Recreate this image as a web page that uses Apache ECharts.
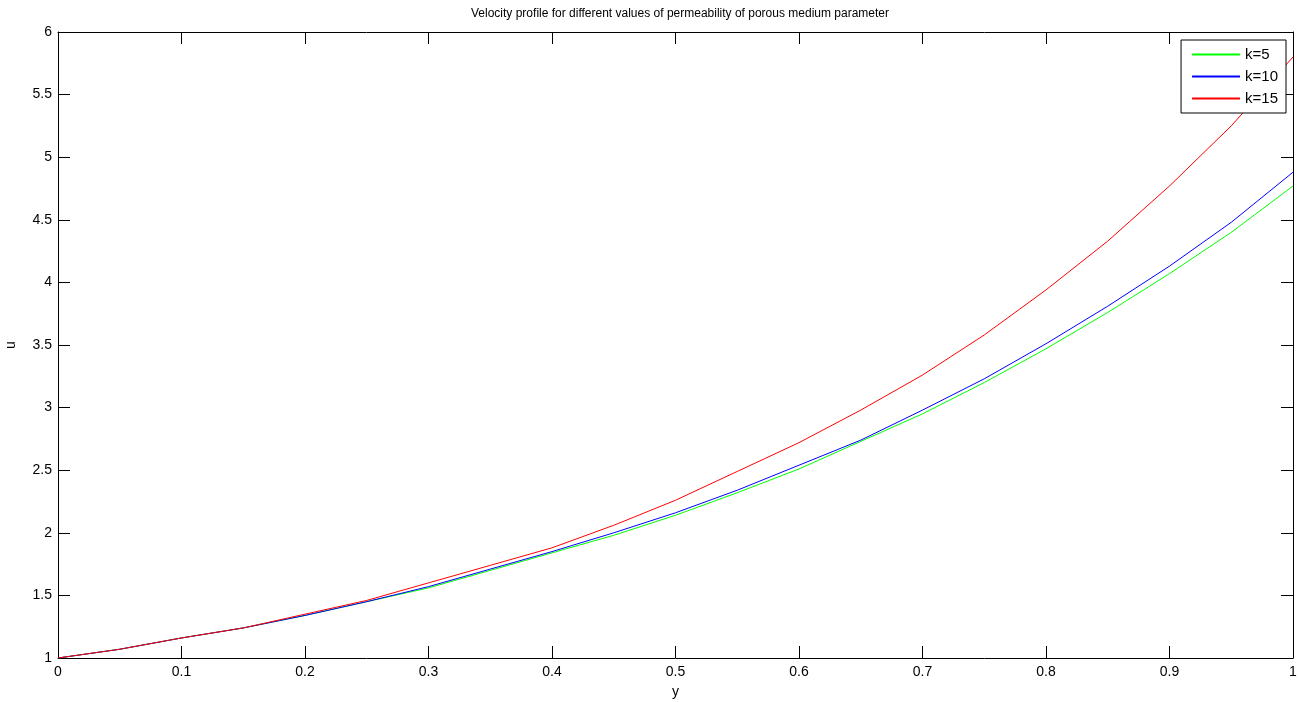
<!DOCTYPE html>
<html>
<head>
<meta charset="utf-8">
<title>Velocity profile</title>
<script src="https://cdn.jsdelivr.net/npm/echarts@6/dist/echarts.min.js"></script>
<style>
  html, body { margin: 0; padding: 0; background: #fff; }
  #chart { width: 1300px; height: 702px; }
</style>
</head>
<body>
<div id="chart"></div>
<script>
// y 坐标（横轴）
const yPos = [0, 0.05, 0.1, 0.15, 0.2, 0.25, 0.3, 0.35, 0.4, 0.45, 0.5,
  0.55, 0.6, 0.65, 0.7, 0.75, 0.8, 0.85, 0.9, 0.95, 1]
// 速度 u，读图估计
const uK5 = [1.00, 1.07, 1.16, 1.24, 1.34, 1.45, 1.56, 1.70, 1.84, 1.98, 2.14,
  2.32, 2.51, 2.73, 2.95, 3.20, 3.47, 3.76, 4.07, 4.40, 4.77]
const uK10 = [1.00, 1.07, 1.16, 1.24, 1.34, 1.45, 1.57, 1.71, 1.85, 2.00, 2.16,
  2.34, 2.54, 2.74, 2.98, 3.23, 3.51, 3.81, 4.13, 4.48, 4.88]
const uK15 = [1.00, 1.07, 1.16, 1.24, 1.35, 1.46, 1.60, 1.74, 1.88, 2.06, 2.26,
  2.49, 2.72, 2.98, 3.26, 3.58, 3.94, 4.33, 4.77, 5.25, 5.80]
const names = ['k=5', 'k=10', 'k=15']
const colors = ['#00ff00', '#0000ff', '#ff0000']

const font = 'Liberation Sans, Arial, sans-serif'
const pairs = arr => yPos.map((x, i) => [x, arr[i]])

const chart = echarts.init(document.getElementById('chart'))

// 公共轴样式：刻度朝内，黑色细线，不贴零
const axisBase = {
  type: 'value',
  axisLine: { show: true, onZero: false, lineStyle: { color: '#000', width: 1 } },
  axisTick: { show: true, inside: true, length: 12, lineStyle: { color: '#000', width: 1 } },
  splitLine: { show: false }
}

const option = {
  animation: false,
  backgroundColor: '#fff',
  title: {
    text: 'Velocity profile for different values of permeability of porous medium parameter',
    left: 675,
    top: 3,
    textAlign: 'center',
    textStyle: { fontFamily: font, fontSize: 12, fontWeight: 'normal', color: '#000' }
  },
  legend: {
    data: names,
    orient: 'vertical',
    right: 14,
    top: 40,
    itemWidth: 48,
    itemHeight: 14,
    itemGap: 7,
    padding: [7, 8, 7, 10],
    borderColor: '#000',
    borderWidth: 1,
    backgroundColor: '#fff',
    itemStyle: { opacity: 0 },
    textStyle: { fontFamily: font, fontSize: 15, color: '#000' }
  },
  grid: { left: 58, right: 7, top: 32, bottom: 44, containLabel: false, outerBoundsMode: 'none' },
  xAxis: [
    {
      ...axisBase,
      min: 0, max: 1, interval: 0.1,
      name: 'y',
      nameLocation: 'middle',
      nameGap: 27,
      nameTextStyle: { fontFamily: font, fontSize: 14, color: '#000' },
      axisLabel: { fontFamily: font, fontSize: 14, color: '#000', margin: 7 }
    },
    {
      ...axisBase,
      position: 'top',
      min: 0, max: 1, interval: 0.1,
      axisLabel: { show: false }
    }
  ],
  yAxis: [
    {
      ...axisBase,
      min: 1, max: 6, interval: 0.5,
      name: 'u',
      nameLocation: 'middle',
      nameGap: 40,
      nameTextStyle: { fontFamily: font, fontSize: 14, color: '#000' },
      axisLabel: { fontFamily: font, fontSize: 14, color: '#000', margin: 6 }
    },
    {
      ...axisBase,
      position: 'right',
      min: 1, max: 6, interval: 0.5,
      axisLabel: { show: false }
    }
  ],
  series: [uK5, uK10, uK15].map((arr, i) => ({
    name: names[i],
    type: 'line',
    xAxisIndex: 0,
    yAxisIndex: 0,
    data: pairs(arr),
    showSymbol: false,
    symbol: 'none',
    smooth: false,
    lineStyle: { color: colors[i], width: 1 },
    itemStyle: { color: colors[i] }
  }))
}

chart.setOption(option)
</script>
</body>
</html>
